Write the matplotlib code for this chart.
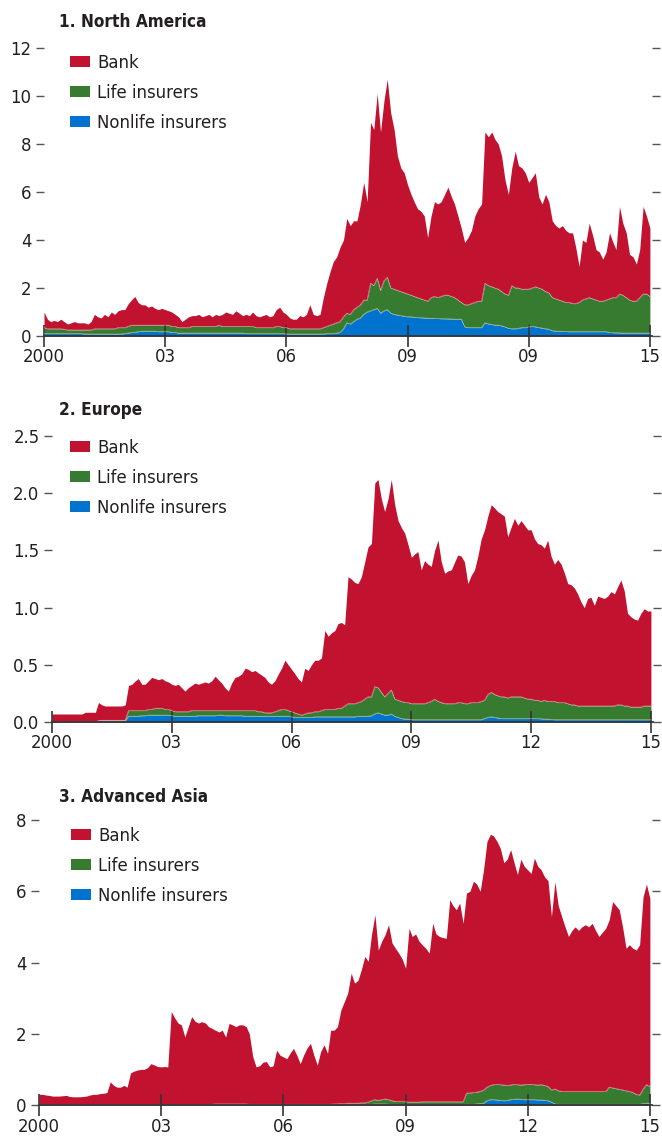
import numpy as np
import pandas as pd
import matplotlib
matplotlib.use("Agg")
import matplotlib.pyplot as plt
from matplotlib.patches import Patch

plt.rcParams['font.family'] = ['DejaVu Sans']
plt.rcParams['font.stretch'] = 'condensed'

# === Daten (monatlich, Jan 2000 - Jan 2015), jeweils Oberkante der Schicht ===
months = pd.date_range('2000-01-01', '2015-01-01', freq='MS')

# 1. North America
na_total = [
    1.0, 0.7, 0.6, 0.65, 0.6, 0.7, 0.6, 0.5, 0.55, 0.6, 0.55, 0.55,
    0.55, 0.5, 0.6, 0.9, 0.8, 0.75, 0.9, 0.8, 1.0, 0.9, 1.05, 1.1,
    1.1, 1.35, 1.5, 1.65, 1.4, 1.3, 1.3, 1.2, 1.25, 1.15, 1.1, 1.15,
    1.1, 1.05, 1.0, 0.9, 0.8, 0.6, 0.7, 0.8, 0.85, 0.85, 0.9, 0.8,
    0.85, 0.9, 0.8, 0.9, 0.85, 0.9, 1.0, 0.95, 0.9, 1.05, 0.95, 0.85,
    0.9, 0.85, 1.0, 0.85, 0.8, 0.85, 0.9, 0.8, 0.85, 1.1, 1.2, 1.0,
    0.9, 0.75, 0.7, 0.7, 0.85, 0.8, 0.9, 1.3, 0.9, 0.85, 0.9, 1.6,
    2.2, 2.7, 3.1, 3.3, 3.7, 4.0, 4.9, 4.6, 4.8, 4.8, 5.5, 6.4,
    5.6, 8.9, 8.6, 10.1, 8.5, 9.8, 10.7, 9.3, 8.6, 7.5, 7.0, 6.8,
    6.3, 5.9, 5.6, 5.3, 5.2, 5.0, 4.1, 5.0, 5.6, 5.5, 5.6, 5.9,
    6.2, 5.8, 5.5, 5.0, 4.5, 3.9, 4.1, 4.4, 5.0, 5.3, 5.5, 8.5,
    8.3, 8.5, 8.2, 8.0, 7.5, 6.5, 5.9, 7.0, 7.7, 7.1, 7.0, 6.8,
    6.4, 6.6, 6.8, 5.8, 5.5, 5.9, 5.6, 4.8, 4.6, 4.5, 4.6, 4.4,
    4.3, 4.3, 3.7, 2.9, 4.0, 3.9, 4.7, 4.2, 3.6, 3.5, 3.2, 3.5,
    4.3, 3.9, 3.6, 5.4, 4.7, 4.3, 3.4, 3.3, 3.0, 3.6, 5.4, 5.0,
    4.5]
na_life = [
    0.35, 0.3, 0.3, 0.3, 0.3, 0.3, 0.28, 0.25, 0.25, 0.25, 0.25, 0.25,
    0.25, 0.25, 0.25, 0.3, 0.3, 0.3, 0.3, 0.3, 0.3, 0.3, 0.35, 0.35,
    0.35, 0.4, 0.45, 0.45, 0.45, 0.45, 0.45, 0.45, 0.45, 0.45, 0.45, 0.45,
    0.45, 0.45, 0.4, 0.4, 0.35, 0.35, 0.35, 0.35, 0.4, 0.4, 0.4, 0.4,
    0.4, 0.4, 0.4, 0.4, 0.45, 0.4, 0.4, 0.4, 0.4, 0.4, 0.4, 0.4,
    0.4, 0.4, 0.4, 0.35, 0.35, 0.35, 0.35, 0.35, 0.35, 0.4, 0.4, 0.35,
    0.35, 0.3, 0.3, 0.3, 0.3, 0.3, 0.3, 0.3, 0.3, 0.3, 0.3, 0.35,
    0.4, 0.45, 0.5, 0.55, 0.6, 0.8, 0.95, 0.9, 1.1, 1.2, 1.3, 1.5,
    1.5, 2.2, 2.1, 2.4, 1.9, 2.3, 2.45, 2.0, 1.95, 1.9, 1.85, 1.8,
    1.75, 1.7, 1.65, 1.6, 1.55, 1.5, 1.45, 1.6, 1.65, 1.6, 1.65, 1.7,
    1.7, 1.65, 1.6, 1.5, 1.4, 1.3, 1.3, 1.35, 1.4, 1.45, 1.45, 2.2,
    2.1, 2.05, 2.0, 1.95, 1.85, 1.75, 1.7, 2.1, 2.0, 2.0, 1.95, 1.95,
    1.95, 2.0, 2.05, 2.0, 1.95, 1.85, 1.8, 1.6, 1.55, 1.5, 1.45, 1.4,
    1.4, 1.35, 1.35, 1.4, 1.5, 1.55, 1.6, 1.55, 1.5, 1.45, 1.45, 1.5,
    1.55, 1.6, 1.6, 1.75, 1.7, 1.6, 1.5, 1.45, 1.45, 1.6, 1.75, 1.75,
    1.65]
na_nonlife = [
    0.1, 0.1, 0.1, 0.1, 0.1, 0.1, 0.1, 0.1, 0.1, 0.1, 0.1, 0.1,
    0.08, 0.08, 0.08, 0.08, 0.08, 0.08, 0.08, 0.08, 0.08, 0.08, 0.08, 0.08,
    0.1, 0.12, 0.15, 0.15, 0.18, 0.2, 0.2, 0.2, 0.2, 0.2, 0.18, 0.18,
    0.18, 0.18, 0.15, 0.15, 0.12, 0.12, 0.12, 0.12, 0.12, 0.12, 0.12, 0.12,
    0.12, 0.12, 0.12, 0.12, 0.12, 0.12, 0.12, 0.12, 0.12, 0.12, 0.12, 0.12,
    0.1, 0.1, 0.1, 0.1, 0.1, 0.1, 0.1, 0.1, 0.1, 0.1, 0.1, 0.1,
    0.08, 0.08, 0.08, 0.08, 0.08, 0.08, 0.08, 0.08, 0.08, 0.08, 0.08, 0.08,
    0.1, 0.1, 0.1, 0.12, 0.15, 0.3, 0.55, 0.5, 0.6, 0.7, 0.75, 0.9,
    1.0, 1.05, 1.1, 1.15, 0.95, 1.05, 1.1, 0.95, 0.9, 0.87, 0.85, 0.82,
    0.8, 0.8, 0.78, 0.77, 0.76, 0.75, 0.74, 0.74, 0.73, 0.73, 0.72, 0.72,
    0.71, 0.71, 0.7, 0.7, 0.7, 0.38, 0.35, 0.35, 0.35, 0.35, 0.35, 0.55,
    0.5, 0.48, 0.45, 0.45, 0.42, 0.38, 0.32, 0.3, 0.3, 0.32, 0.35, 0.35,
    0.38, 0.4, 0.38, 0.35, 0.33, 0.3, 0.28, 0.22, 0.2, 0.2, 0.19, 0.19,
    0.18, 0.18, 0.18, 0.18, 0.18, 0.18, 0.18, 0.18, 0.18, 0.18, 0.18, 0.18,
    0.15, 0.14, 0.13, 0.13, 0.12, 0.12, 0.12, 0.12, 0.12, 0.12, 0.12, 0.12,
    0.12]

# 2. Europe
eu_total = [
    0.07, 0.07, 0.07, 0.07, 0.07, 0.07, 0.07, 0.07, 0.07, 0.07, 0.085, 0.085,
    0.085, 0.085, 0.17, 0.15, 0.14, 0.14, 0.14, 0.14, 0.14, 0.14, 0.15, 0.32,
    0.33, 0.36, 0.38, 0.33, 0.33, 0.36, 0.39, 0.38, 0.37, 0.38, 0.36, 0.35,
    0.33, 0.32, 0.33, 0.3, 0.27, 0.3, 0.32, 0.34, 0.33, 0.34, 0.35, 0.34,
    0.36, 0.4, 0.37, 0.34, 0.3, 0.27, 0.34, 0.39, 0.4, 0.42, 0.47, 0.46,
    0.44, 0.45, 0.43, 0.41, 0.39, 0.35, 0.33, 0.36, 0.42, 0.47, 0.54, 0.5,
    0.46, 0.42, 0.38, 0.35, 0.47, 0.45, 0.5, 0.54, 0.54, 0.56, 0.8, 0.75,
    0.78, 0.8, 0.86, 0.87, 0.85, 1.27, 1.25, 1.22, 1.21, 1.27, 1.4, 1.53,
    1.56, 2.09, 2.12, 1.95, 1.84, 1.95, 2.12, 1.9, 1.76, 1.7, 1.65, 1.55,
    1.44, 1.47, 1.49, 1.33, 1.41, 1.38, 1.36, 1.5, 1.59, 1.4, 1.3, 1.32,
    1.33, 1.4, 1.46, 1.45, 1.4, 1.21, 1.28, 1.33, 1.45, 1.6, 1.68, 1.8,
    1.9, 1.87, 1.84, 1.82, 1.8, 1.62, 1.7, 1.78, 1.72, 1.76, 1.72, 1.68,
    1.68, 1.6, 1.56, 1.55, 1.52, 1.59, 1.45, 1.38, 1.42, 1.38, 1.3, 1.21,
    1.2, 1.17, 1.12, 1.05, 1.0, 1.08, 1.09, 1.02, 1.1, 1.09, 1.08, 1.1,
    1.14, 1.12, 1.18, 1.24, 1.15, 0.95, 0.92, 0.9, 0.89, 0.95, 0.99, 0.97,
    0.97]
eu_life = [
    0, 0, 0, 0, 0, 0, 0, 0, 0, 0, 0, 0,
    0, 0, 0.01, 0.015, 0.015, 0.015, 0.015, 0.015, 0.015, 0.015, 0.015, 0.1,
    0.1, 0.1, 0.1, 0.1, 0.1, 0.11, 0.11, 0.12, 0.12, 0.12, 0.11, 0.11,
    0.1, 0.09, 0.09, 0.09, 0.09, 0.09, 0.1, 0.1, 0.1, 0.1, 0.1, 0.1,
    0.1, 0.1, 0.1, 0.1, 0.1, 0.1, 0.1, 0.1, 0.1, 0.1, 0.1, 0.1,
    0.1, 0.1, 0.09, 0.09, 0.08, 0.08, 0.08, 0.09, 0.1, 0.11, 0.11, 0.1,
    0.09, 0.08, 0.07, 0.06, 0.07, 0.08, 0.08, 0.09, 0.09, 0.1, 0.11, 0.11,
    0.11, 0.11, 0.12, 0.12, 0.14, 0.16, 0.16, 0.16, 0.17, 0.18, 0.2, 0.22,
    0.22, 0.31, 0.3, 0.26, 0.22, 0.25, 0.28, 0.2, 0.19, 0.18, 0.17, 0.17,
    0.16, 0.16, 0.16, 0.16, 0.16, 0.17, 0.18, 0.2, 0.18, 0.17, 0.16, 0.16,
    0.16, 0.16, 0.17, 0.17, 0.16, 0.16, 0.17, 0.17, 0.17, 0.18, 0.19, 0.24,
    0.26, 0.24, 0.23, 0.22, 0.22, 0.21, 0.22, 0.22, 0.22, 0.22, 0.21, 0.2,
    0.2, 0.19, 0.19, 0.18, 0.19, 0.18, 0.18, 0.18, 0.17, 0.17, 0.17, 0.16,
    0.15, 0.15, 0.14, 0.14, 0.14, 0.14, 0.14, 0.14, 0.14, 0.14, 0.14, 0.14,
    0.14, 0.14, 0.15, 0.15, 0.14, 0.14, 0.13, 0.13, 0.13, 0.13, 0.14, 0.14,
    0.14]
eu_nonlife = [
    0, 0, 0, 0, 0, 0, 0, 0, 0, 0, 0, 0,
    0, 0, 0.01, 0.01, 0.01, 0.01, 0.01, 0.01, 0.01, 0.01, 0.01, 0.05,
    0.05, 0.05, 0.05, 0.055, 0.055, 0.06, 0.06, 0.06, 0.06, 0.06, 0.06, 0.06,
    0.055, 0.05, 0.05, 0.05, 0.05, 0.05, 0.05, 0.05, 0.055, 0.055, 0.055, 0.055,
    0.055, 0.055, 0.06, 0.06, 0.055, 0.055, 0.055, 0.055, 0.055, 0.055, 0.05, 0.05,
    0.05, 0.05, 0.05, 0.05, 0.05, 0.05, 0.05, 0.05, 0.05, 0.05, 0.05, 0.05,
    0.045, 0.04, 0.04, 0.04, 0.04, 0.04, 0.04, 0.045, 0.045, 0.045, 0.045, 0.045,
    0.045, 0.045, 0.045, 0.045, 0.045, 0.045, 0.045, 0.045, 0.05, 0.05, 0.05, 0.05,
    0.055, 0.07, 0.08, 0.07, 0.06, 0.06, 0.07, 0.05, 0.04, 0.03, 0.025, 0.025,
    0.02, 0.02, 0.02, 0.02, 0.02, 0.02, 0.02, 0.02, 0.02, 0.02, 0.02, 0.02,
    0.02, 0.02, 0.02, 0.02, 0.02, 0.02, 0.02, 0.02, 0.02, 0.02, 0.03, 0.04,
    0.045, 0.04, 0.035, 0.03, 0.03, 0.03, 0.03, 0.03, 0.03, 0.03, 0.03, 0.03,
    0.03, 0.03, 0.03, 0.028, 0.025, 0.025, 0.022, 0.02, 0.02, 0.02, 0.02, 0.02,
    0.02, 0.02, 0.02, 0.02, 0.02, 0.02, 0.02, 0.02, 0.02, 0.02, 0.02, 0.02,
    0.02, 0.02, 0.02, 0.02, 0.02, 0.02, 0.02, 0.02, 0.02, 0.02, 0.02, 0.02,
    0.02]

# 3. Advanced Asia
asia_total = [
    0.3, 0.3, 0.28, 0.27, 0.25, 0.25, 0.25, 0.26, 0.27, 0.24, 0.23, 0.23,
    0.23, 0.24, 0.25, 0.28, 0.3, 0.3, 0.32, 0.33, 0.35, 0.65, 0.55, 0.5,
    0.5, 0.55, 0.5, 0.9, 0.95, 0.98, 1.0, 1.0, 1.05, 1.16, 1.12, 1.08,
    1.07, 1.08, 1.07, 2.62, 2.45, 2.3, 2.25, 1.91, 2.2, 2.48, 2.35, 2.3,
    2.34, 2.3, 2.2, 2.15, 2.1, 2.05, 2.1, 1.91, 2.29, 2.25, 2.2, 2.25,
    2.25, 2.2, 2.0, 1.36, 1.07, 1.1, 1.2, 1.22, 1.07, 1.1, 1.54, 1.4,
    1.35, 1.3, 1.45, 1.59, 1.4, 1.16, 1.4, 1.6, 1.73, 1.4, 1.12, 1.5,
    1.69, 1.45, 2.1, 2.1, 2.2, 2.67, 2.9, 3.14, 3.7, 3.42, 3.5, 3.8,
    4.17, 4.03, 4.78, 5.34, 4.35, 4.6, 4.78, 5.06, 4.55, 4.4, 4.26, 4.1,
    3.84, 4.96, 4.73, 4.8, 4.6, 4.49, 4.4, 4.26, 5.1, 4.8, 4.73, 4.7,
    4.68, 5.76, 5.6, 5.48, 5.67, 5.1, 5.95, 6.0, 6.28, 6.2, 6.0, 6.6,
    7.4, 7.6, 7.55, 7.4, 7.2, 6.8, 6.9, 7.17, 6.8, 6.47, 6.9, 6.7,
    6.6, 6.5, 6.93, 6.7, 6.6, 6.4, 6.3, 5.29, 6.26, 5.6, 5.29, 5.0,
    4.73, 4.9, 5.0, 4.9, 5.0, 5.06, 5.0, 5.1, 4.9, 4.73, 4.85, 4.96,
    5.2, 5.71, 5.6, 5.48, 5.0, 4.4, 4.5, 4.4, 4.35, 4.5, 5.85, 6.2,
    5.8]
asia_life = [
    0, 0, 0, 0, 0, 0, 0, 0, 0, 0, 0, 0,
    0, 0, 0, 0, 0, 0, 0, 0, 0, 0, 0, 0,
    0, 0, 0, 0, 0, 0, 0, 0, 0, 0, 0, 0,
    0, 0, 0, 0, 0, 0, 0, 0, 0, 0, 0, 0,
    0, 0, 0, 0.02, 0.03, 0.03, 0.03, 0.03, 0.03, 0.03, 0.03, 0.03,
    0.03, 0.03, 0.02, 0.02, 0.02, 0.02, 0.02, 0.02, 0.02, 0.02, 0.02, 0.02,
    0.02, 0.02, 0.02, 0.02, 0.02, 0.02, 0.02, 0.02, 0.02, 0.02, 0.02, 0.02,
    0.02, 0.02, 0.02, 0.03, 0.03, 0.04, 0.04, 0.05, 0.05, 0.05, 0.05, 0.06,
    0.06, 0.08, 0.12, 0.15, 0.13, 0.15, 0.17, 0.15, 0.12, 0.1, 0.1, 0.1,
    0.09, 0.08, 0.08, 0.08, 0.08, 0.09, 0.09, 0.09, 0.09, 0.09, 0.09, 0.09,
    0.09, 0.09, 0.09, 0.09, 0.09, 0.09, 0.33, 0.34, 0.35, 0.36, 0.38, 0.42,
    0.5, 0.55, 0.57, 0.58, 0.57, 0.56, 0.55, 0.56, 0.58, 0.57, 0.56, 0.57,
    0.58, 0.58, 0.57, 0.56, 0.57, 0.55, 0.52, 0.42, 0.45, 0.4, 0.38, 0.38,
    0.38, 0.38, 0.38, 0.38, 0.38, 0.38, 0.38, 0.38, 0.38, 0.38, 0.38, 0.38,
    0.5, 0.48, 0.46, 0.44, 0.42, 0.4, 0.38, 0.35, 0.3, 0.28, 0.45, 0.57,
    0.52]
asia_nonlife = [
    0, 0, 0, 0, 0, 0, 0, 0, 0, 0, 0, 0,
    0, 0, 0, 0, 0, 0, 0, 0, 0, 0, 0, 0,
    0, 0, 0, 0, 0, 0, 0, 0, 0, 0, 0, 0,
    0, 0, 0, 0, 0, 0, 0, 0, 0, 0, 0, 0,
    0, 0, 0, 0, 0, 0, 0, 0, 0, 0, 0, 0,
    0, 0, 0, 0, 0, 0, 0, 0, 0, 0, 0, 0,
    0, 0, 0, 0, 0, 0, 0, 0, 0, 0, 0, 0,
    0, 0, 0, 0, 0, 0, 0, 0, 0, 0, 0, 0,
    0, 0, 0.02, 0.03, 0.03, 0.03, 0.03, 0.02, 0.01, 0, 0, 0,
    0.01, 0.01, 0.01, 0.01, 0.01, 0.01, 0.01, 0.01, 0.01, 0.01, 0.01, 0.01,
    0.01, 0.01, 0.01, 0.01, 0.01, 0.01, 0.02, 0.02, 0.02, 0.03, 0.04, 0.05,
    0.12, 0.15, 0.15, 0.14, 0.13, 0.12, 0.13, 0.15, 0.16, 0.17, 0.16, 0.15,
    0.15, 0.15, 0.15, 0.14, 0.14, 0.13, 0.12, 0.08, 0.03, 0.02, 0.02, 0.02,
    0.02, 0.02, 0.02, 0.02, 0.02, 0.02, 0.02, 0.02, 0.02, 0.02, 0.02, 0.02,
    0.02, 0.02, 0.02, 0.02, 0.02, 0.02, 0.02, 0.02, 0.02, 0.02, 0.04, 0.05,
    0.05]

x_ticks = pd.to_datetime(['2000-01-01', '2003-01-01', '2006-01-01',
                          '2009-01-01', '2012-01-01', '2015-01-01'])
x_labels_na = ['2000', '03', '06', '09', '09', '15']   # so im Original
x_labels = ['2000', '03', '06', '09', '12', '15']

BANK = '#C1122F'
LIFE = '#367B2F'
NONLIFE = '#0073CF'
TXT = '#231F20'
FS = 13.2
FS_TITLE = 12.3

W, H = 662, 1136
fig = plt.figure(figsize=(W / 100, H / 100), dpi=100)


def px_axes(left, right, top, bottom):
    return fig.add_axes([left / W, 1 - bottom / H, (right - left) / W, (bottom - top) / H])


def panel(ax, total, life, nonlife, ymax, yticks, ylabels, xlabels,
          title, title_xy, leg_xy):
    ax.fill_between(months, life, total, color=BANK, lw=0)
    ax.fill_between(months, nonlife, life, color=LIFE, lw=0)
    ax.fill_between(months, 0, nonlife, color=NONLIFE, lw=0)
    ax.plot(months, life, color='white', lw=0.5, alpha=0.5)
    ax.plot(months, nonlife, color='white', lw=0.5, alpha=0.5)

    ax.set_xlim(pd.Timestamp('2000-01-01'), pd.Timestamp('2015-01-20'))
    ax.set_ylim(0, ymax)
    for s in ['top', 'left', 'right']:
        ax.spines[s].set_visible(False)
    ax.spines['bottom'].set_color('#333333')
    ax.spines['bottom'].set_linewidth(1.3)

    ax.set_yticks(yticks)
    ax.set_yticklabels(ylabels)
    ax.tick_params(axis='y', left=True, right=True, direction='out', length=6,
                   width=1.0, color='#555555', pad=3, labelsize=FS, labelcolor=TXT)
    ax.set_xticks(x_ticks)
    ax.set_xticklabels(xlabels)
    ax.tick_params(axis='x', direction='inout', length=16, width=1.2,
                   color='#333333', pad=1, labelsize=FS, labelcolor=TXT)

    fig.text(title_xy[0] / W, 1 - title_xy[1] / H, title, fontsize=FS_TITLE,
             fontweight='bold', color=TXT, va='center', ha='left')

    handles = [Patch(facecolor=BANK, label='Bank'),
               Patch(facecolor=LIFE, label='Life insurers'),
               Patch(facecolor=NONLIFE, label='Nonlife insurers')]
    leg = ax.legend(handles=handles, loc='upper left',
                    bbox_to_anchor=(leg_xy[0] / W, 1 - leg_xy[1] / H),
                    bbox_transform=fig.transFigure, frameon=False, fontsize=FS,
                    handlelength=1.07, handleheight=0.5, handletextpad=0.4,
                    labelspacing=0.66, borderpad=0, borderaxespad=0)
    for t in leg.get_texts():
        t.set_color(TXT)


ax1 = px_axes(44, 652, 48, 336)
panel(ax1, na_total, na_life, na_nonlife, 12, [0, 2, 4, 6, 8, 10, 12],
      ['0', '2', '4', '6', '8', '10', '12'], x_labels_na,
      '1. North America', (59, 22), (70, 54))

ax2 = px_axes(52, 653, 436, 722)
panel(ax2, eu_total, eu_life, eu_nonlife, 2.5, [0, 0.5, 1.0, 1.5, 2.0, 2.5],
      ['0.0', '0.5', '1.0', '1.5', '2.0', '2.5'], x_labels,
      '2. Europe', (59, 410), (70, 439))

ax3 = px_axes(39, 652, 820, 1105)
panel(ax3, asia_total, asia_life, asia_nonlife, 8, [0, 2, 4, 6, 8],
      ['0', '2', '4', '6', '8'], x_labels,
      '3. Advanced Asia', (59, 797), (71, 827))

fig.savefig('out.png', dpi=100)
